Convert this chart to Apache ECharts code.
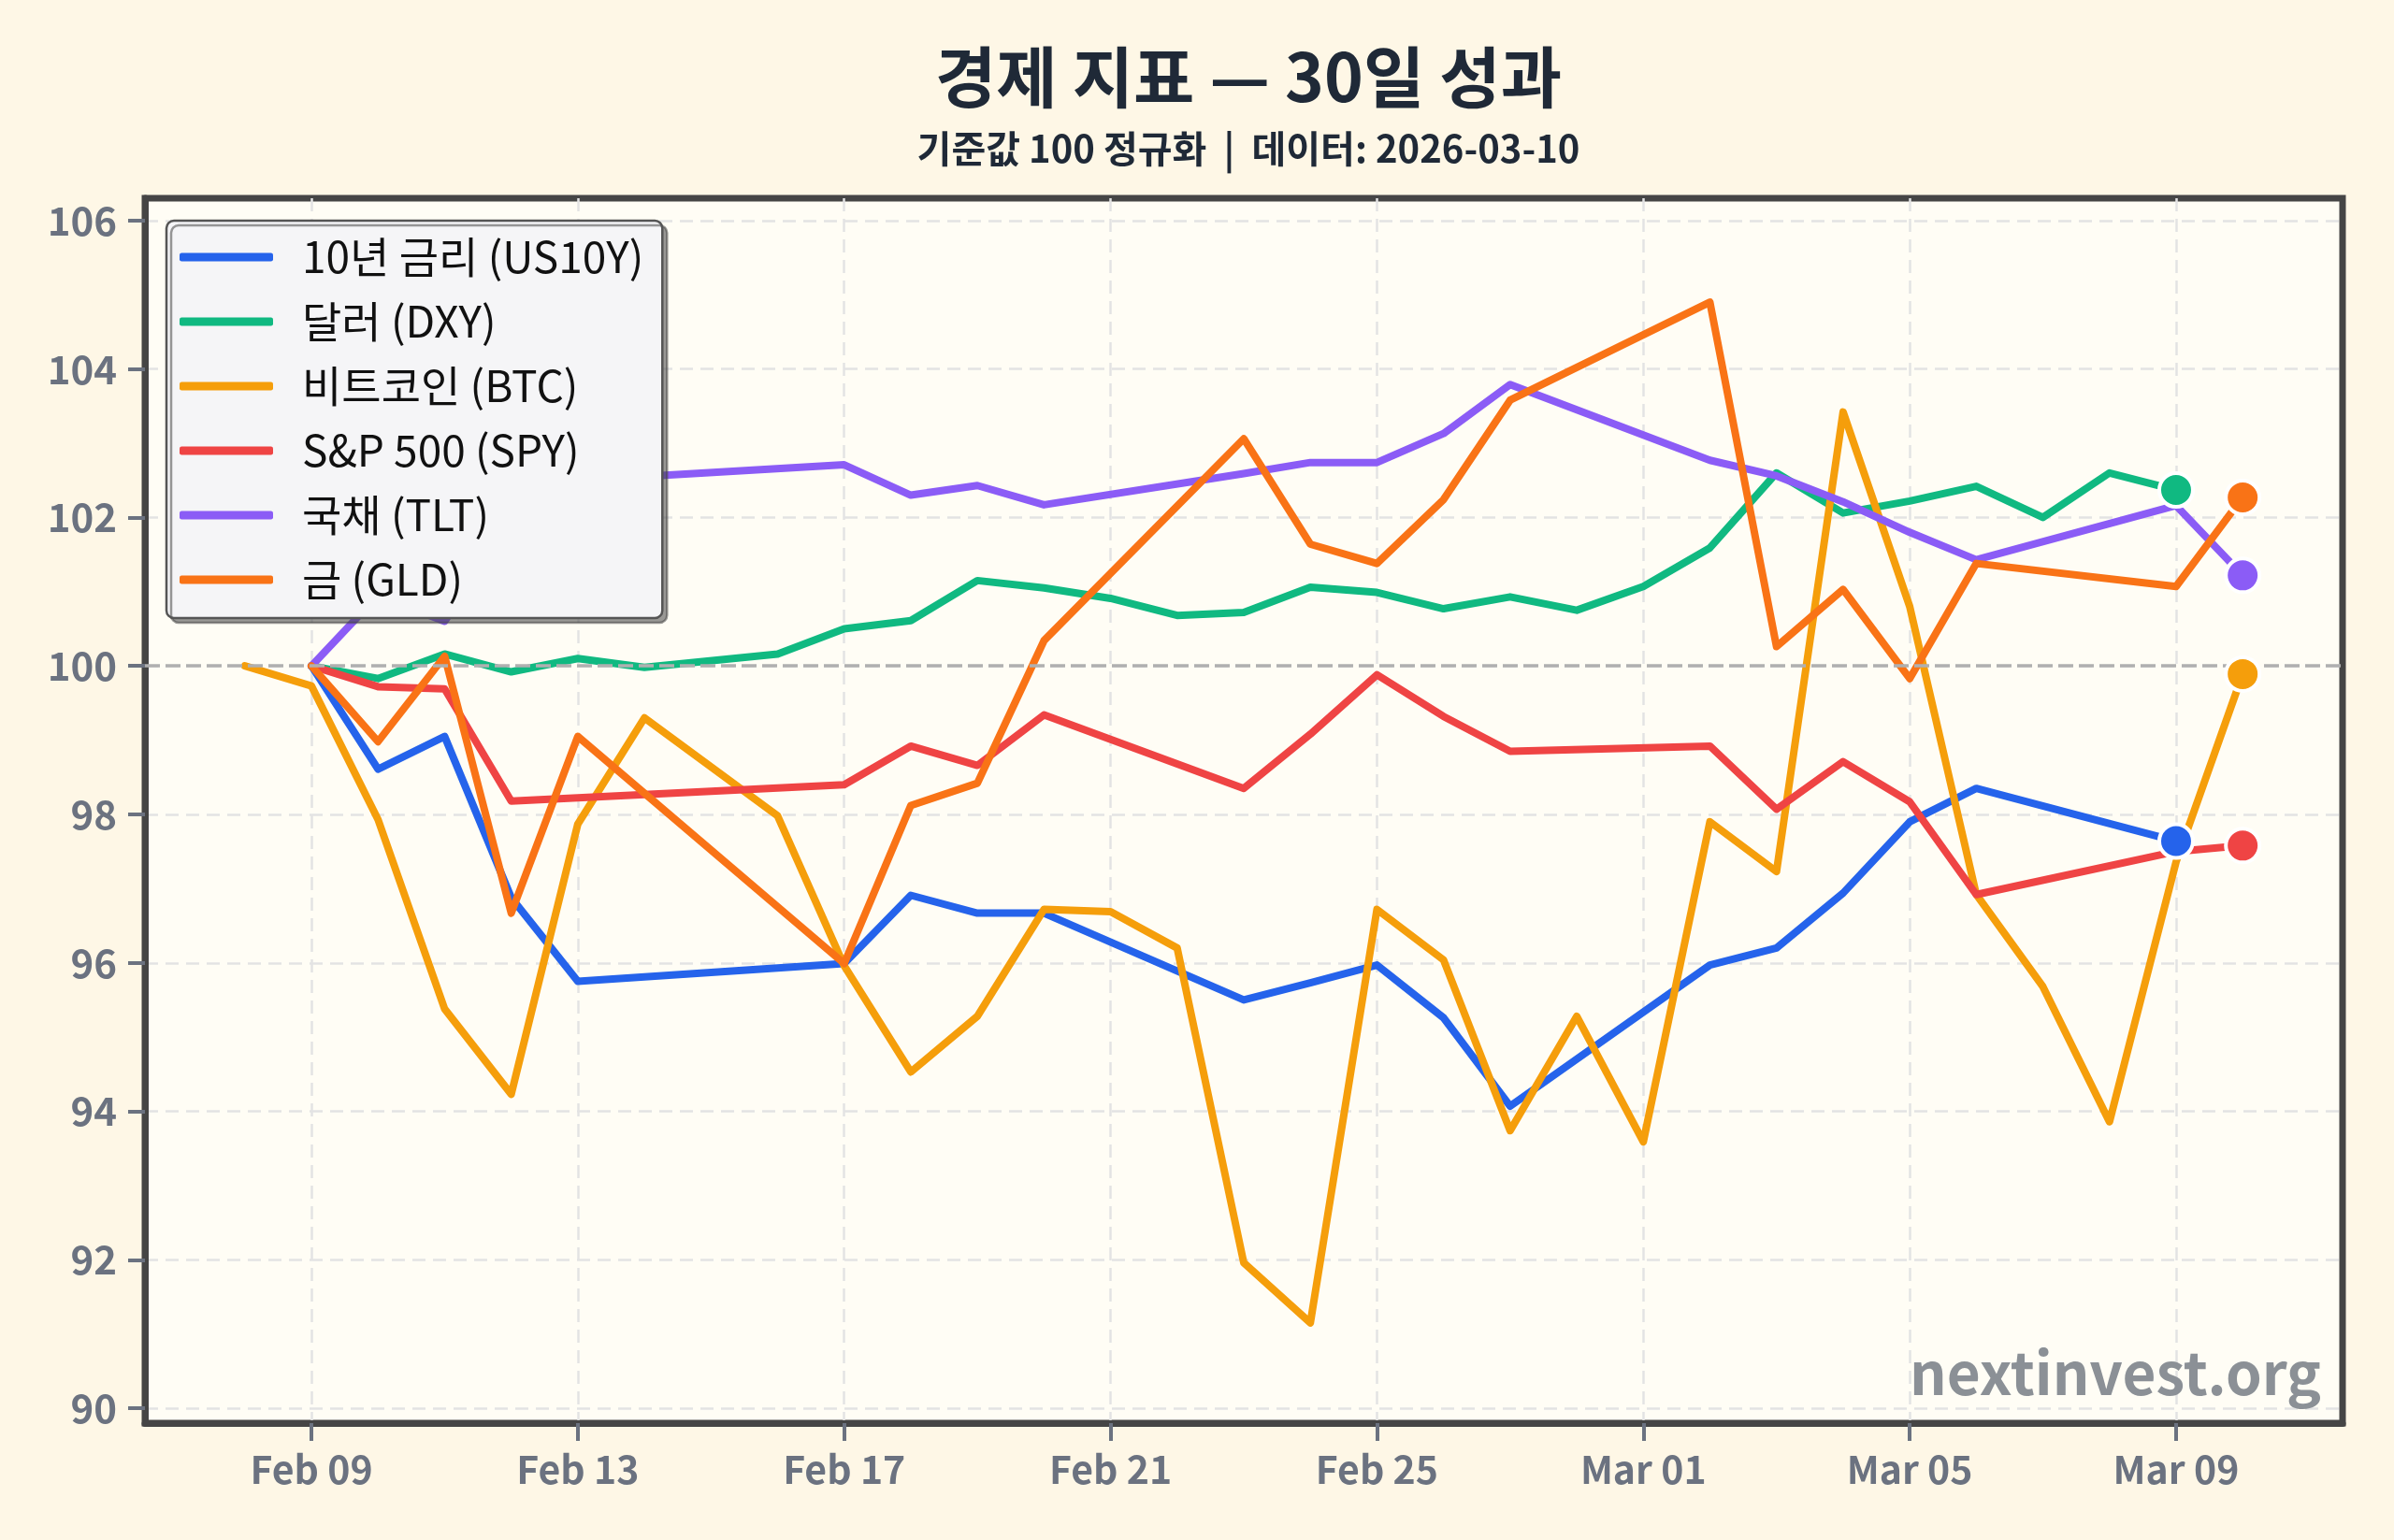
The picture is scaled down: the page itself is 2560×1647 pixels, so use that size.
<!DOCTYPE html>
<html>
<head>
<meta charset="utf-8">
<title>경제 지표 — 30일 성과</title>
<script src="https://cdn.jsdelivr.net/npm/echarts@6/dist/echarts.min.js"></script>
<style>
  html, body { margin: 0; padding: 0; background: #fef7e6; }
  #chart { width: 2560px; height: 1647px; }
</style>
</head>
<body>
<div id="chart"></div>
<script>
// --- data (normalised to 100) ---
const seriesNames = ['10년 금리 (US10Y)', '달러 (DXY)', '비트코인 (BTC)', 'S&P 500 (SPY)', '국채 (TLT)', '금 (GLD)'];
const seriesColors = ['#2563eb', '#10b981', '#f59e0b', '#ef4444', '#8b5cf6', '#f97316'];

const us10yDates = ['02-09','02-10','02-11','02-12','02-13','02-17','02-18','02-19','02-20','02-23','02-24','02-25','02-26','02-27','03-02','03-03','03-04','03-05','03-06','03-09'];
const us10yValues = [100, 98.61, 99.05, 96.88, 95.75, 95.99, 96.91, 96.67, 96.67, 95.5, 95.73, 95.97, 95.26, 94.07, 95.97, 96.2, 96.94, 97.9, 98.35, 97.64];

const dxyDates = ['02-09','02-10','02-11','02-12','02-13','02-14','02-16','02-17','02-18','02-19','02-20','02-21','02-22','02-23','02-24','02-25','02-26','02-27','02-28','03-01','03-02','03-03','03-04','03-05','03-06','03-07','03-08','03-09'];
const dxyValues = [100, 99.83, 100.16, 99.92, 100.1, 99.98, 100.16, 100.5, 100.61, 101.15, 101.05, 100.91, 100.68, 100.72, 101.06, 100.99, 100.77, 100.93, 100.75, 101.07, 101.59, 102.6, 102.06, 102.22, 102.42, 102.0, 102.6, 102.37];

const btcDates = ['02-08','02-09','02-10','02-11','02-12','02-13','02-14','02-16','02-17','02-18','02-19','02-20','02-21','02-22','02-23','02-24','02-25','02-26','02-27','02-28','03-01','03-02','03-03','03-04','03-05','03-06','03-07','03-08','03-09','03-10'];
const btcValues = [100, 99.73, 97.93, 95.38, 94.23, 97.87, 99.3, 97.98, 95.96, 94.53, 95.28, 96.72, 96.69, 96.2, 91.96, 91.15, 96.72, 96.04, 93.74, 95.28, 93.59, 97.9, 97.23, 103.42, 100.8, 96.92, 95.68, 93.86, 97.36, 99.89];

const spyDates = ['02-09','02-10','02-11','02-12','02-17','02-18','02-19','02-20','02-23','02-24','02-25','02-26','02-27','03-02','03-03','03-04','03-05','03-06','03-09','03-10'];
const spyValues = [100, 99.72, 99.69, 98.18, 98.4, 98.92, 98.66, 99.34, 98.35, 99.08, 99.88, 99.32, 98.85, 98.92, 98.07, 98.71, 98.17, 96.92, 97.5, 97.58];

const tltDates = ['02-09','02-10','02-11','02-12','02-13','02-17','02-18','02-19','02-20','02-23','02-24','02-25','02-26','02-27','03-02','03-03','03-04','03-05','03-06','03-09','03-10'];
const tltValues = [100, 100.95, 100.6, 101.9, 102.5, 102.71, 102.3, 102.43, 102.17, 102.59, 102.74, 102.74, 103.13, 103.79, 102.77, 102.56, 102.21, 101.8, 101.43, 102.16, 101.22];

const gldDates = ['02-09','02-10','02-11','02-12','02-13','02-17','02-18','02-19','02-20','02-23','02-24','02-25','02-26','02-27','03-02','03-03','03-04','03-05','03-06','03-09','03-10'];
const gldValues = [100, 98.98, 100.13, 96.67, 99.05, 95.99, 98.12, 98.42, 100.34, 103.06, 101.64, 101.38, 102.24, 103.58, 104.9, 100.26, 101.03, 99.83, 101.38, 101.07, 102.27];

const xTickDates = ['02-09','02-13','02-17','02-21','02-25','03-01','03-05','03-09'];
const xTickLabels = ['Feb 09','Feb 13','Feb 17','Feb 21','Feb 25','Mar 01','Mar 05','Mar 09'];
const yTicks = [90, 92, 94, 96, 98, 100, 102, 104, 106];

// days since Feb 08 2026
const base = Date.UTC(2026, 1, 8);
function dayOf(s) {
  const [m, d] = s.split('-').map(Number);
  return Math.round((Date.UTC(2026, m - 1, d) - base) / 86400000);
}
const xTickDays = xTickDates.map(dayOf);

const allDates = [us10yDates, dxyDates, btcDates, spyDates, tltDates, gldDates];
const allValues = [us10yValues, dxyValues, btcValues, spyValues, tltValues, gldValues];

const FONT = '"Noto Sans CJK KR", "Noto Sans", sans-serif';
const GRID_LINE = { color: '#e3e3e3', width: 2.5, type: [14, 8] };

const lineSeries = seriesNames.map((name, i) => ({
  name: name,
  type: 'line',
  color: seriesColors[i],
  data: allDates[i].map((d, j) => [dayOf(d), allValues[i][j]]),
  symbol: 'none',
  lineStyle: { width: 8, color: seriesColors[i], join: 'round', cap: 'round' },
  silent: true,
  z: 3,
  ...(i === 0 ? {
    markLine: {
      silent: true,
      symbol: 'none',
      label: { show: false },
      lineStyle: { color: '#b0b0b0', width: 3.5, type: [16, 6] },
      data: [{ yAxis: 100 }]
    }
  } : {})
}));

// marker on the last point of every series, drawn above all lines
const endPoints = {
  name: 'end',
  type: 'scatter',
  silent: true,
  z: 6,
  symbol: 'circle',
  symbolSize: 36,
  data: allDates.map((ds, i) => ({
    value: [dayOf(ds[ds.length - 1]), allValues[i][allValues[i].length - 1]],
    itemStyle: { color: seriesColors[i], opacity: 1, borderColor: '#ffffff', borderWidth: 4 }
  }))
};

const chart = echarts.init(document.getElementById('chart'));
chart.setOption({
  animation: false,
  backgroundColor: '#fef7e6',
  textStyle: { fontFamily: FONT },
  title: [
    {
      text: '경제 지표 — 30일 성과',
      left: 1330, top: 42, textAlign: 'center',
      textStyle: { fontFamily: FONT, fontSize: 71, fontWeight: 'bold', color: '#1f2937' }
    },
    {
      text: '기준값 100 정규화  |  데이터: 2026-03-10',
      left: 1330, top: 134, textAlign: 'center',
      textStyle: { fontFamily: FONT, fontSize: 40, fontWeight: 'bold', color: '#1f2937' }
    }
  ],
  grid: {
    left: 155, right: 55, top: 212, bottom: 125,
    show: true,
    backgroundColor: '#fffdf5',
    borderColor: '#454545',
    borderWidth: 7
  },
  legend: {
    data: seriesNames,
    orient: 'vertical',
    left: 178, top: 236,
    icon: 'roundRect',
    itemWidth: 100, itemHeight: 9,
    itemGap: 19,
    padding: [14, 20, 16, 14],
    backgroundColor: '#f5f5f7',
    borderColor: '#555555',
    borderWidth: 2.5,
    borderRadius: 8,
    shadowColor: 'rgba(70,70,70,0.55)',
    shadowBlur: 0,
    shadowOffsetX: 5,
    shadowOffsetY: 5,
    textStyle: { fontFamily: FONT, fontSize: 46, color: '#111111', lineHeight: 50, padding: [0, 0, 0, 26] }
  },
  xAxis: {
    type: 'value',
    min: -1.5, max: 31.5,
    axisLine: { show: true, onZero: false, lineStyle: { color: '#454545', width: 7 } },
    axisTick: { show: true, customValues: xTickDays, length: 19, lineStyle: { color: '#6b7280', width: 4 } },
    axisLabel: {
      customValues: xTickDays,
      margin: 29,
      fontFamily: FONT, fontSize: 41, fontWeight: 'bold', color: '#6b7280',
      formatter: v => { const k = xTickDays.indexOf(v); return k >= 0 ? xTickLabels[k] : ''; }
    },
    splitLine: { show: true, lineStyle: GRID_LINE }
  },
  yAxis: {
    type: 'value',
    min: 89.8, max: 106.3,
    axisLine: { show: true, onZero: false, lineStyle: { color: '#454545', width: 7 } },
    axisTick: { show: true, customValues: yTicks, length: 18, lineStyle: { color: '#6b7280', width: 4 } },
    axisLabel: {
      customValues: yTicks,
      margin: 30,
      fontFamily: FONT, fontSize: 42, fontWeight: 'bold', color: '#6b7280'
    },
    splitLine: { show: true, lineStyle: GRID_LINE }
  },
  graphic: [
    {
      type: 'text',
      x: 2482, y: 1468,
      z: 10,
      style: {
        text: 'nextinvest.org',
        font: 'bold 62px ' + FONT,
        fill: '#8b9096',
        align: 'right',
        verticalAlign: 'middle'
      }
    }
  ],
  series: [...lineSeries, endPoints]
});
</script>
</body>
</html>
